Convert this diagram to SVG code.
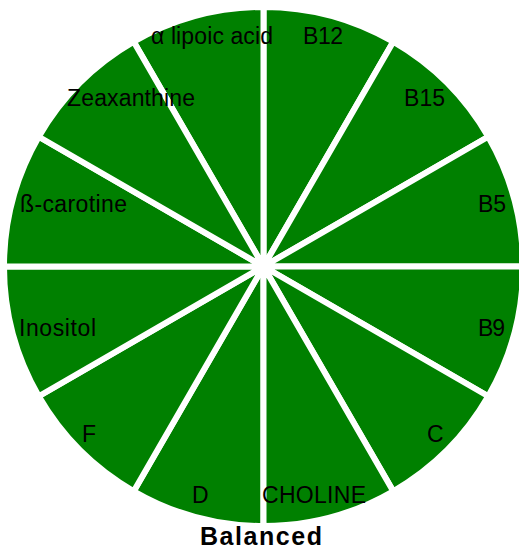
<svg xmlns="http://www.w3.org/2000/svg" width="519" height="551" viewBox="0 0 519 551">
<style>
.s{fill:#008000;stroke:#ffffff;stroke-width:6;stroke-linejoin:round}
.t{font-family:"Liberation Sans",Arial,sans-serif;font-size:23px;fill:#000000}
.ti{font-family:"Liberation Sans",Arial,sans-serif;font-size:25px;font-weight:bold;fill:#000000}
</style>
<rect width="519" height="551" fill="#ffffff"/>
<g id="sector-b12"><path class="s" d="M263.5,266.5 L263.5,7 A259.5,259.5 0 0 1 393.25,41.765 Z"/><text class="t" x="303" y="44" textLength="40">B12</text></g>
<g id="sector-b15"><path class="s" d="M263.5,266.5 L393.25,41.765 A259.5,259.5 0 0 1 488.235,136.75 Z"/><text class="t" x="404" y="106" textLength="41">B15</text></g>
<g id="sector-b5"><path class="s" d="M263.5,266.5 L488.235,136.75 A259.5,259.5 0 0 1 523,266.5 Z"/><text class="t" x="478" y="212" textLength="28">B5</text></g>
<g id="sector-b9"><path class="s" d="M263.5,266.5 L523,266.5 A259.5,259.5 0 0 1 488.235,396.25 Z"/><text class="t" x="478" y="336" textLength="27">B9</text></g>
<g id="sector-c"><path class="s" d="M263.5,266.5 L488.235,396.25 A259.5,259.5 0 0 1 393.25,491.235 Z"/><text class="t" x="427" y="442">C</text></g>
<g id="sector-d"><path class="s" d="M263.5,266.5 L263.5,526 A259.5,259.5 0 0 1 133.75,491.235 Z"/><text class="t" x="192" y="503">D</text></g>
<g id="sector-choline"><path class="s" d="M263.5,266.5 L393.25,491.235 A259.5,259.5 0 0 1 263.5,526 Z"/><text class="t" x="262" y="503" textLength="104">CHOLINE</text></g>
<g id="sector-f"><path class="s" d="M263.5,266.5 L133.75,491.235 A259.5,259.5 0 0 1 38.765,396.25 Z"/><text class="t" x="82" y="442">F</text></g>
<g id="sector-inositol"><path class="s" d="M263.5,266.5 L38.765,396.25 A259.5,259.5 0 0 1 4,266.5 Z"/><text class="t" x="19" y="336" textLength="77">Inositol</text></g>
<g id="sector-b-carotine"><path class="s" d="M263.5,266.5 L4,266.5 A259.5,259.5 0 0 1 38.765,136.75 Z"/><text class="t" x="20" y="212" textLength="107">ß-carotine</text></g>
<g id="sector-alpha-lipoic-acid"><path class="s" d="M263.5,266.5 L133.75,41.765 A259.5,259.5 0 0 1 263.5,7 Z"/><text class="t" x="151" y="44" textLength="122">α lipoic acid</text></g>
<g id="sector-zeaxanthine"><path class="s" d="M263.5,266.5 L38.765,136.75 A259.5,259.5 0 0 1 133.75,41.765 Z"/><text class="t" x="67" y="106" textLength="128">Zeaxanthine</text></g>
<g id="connectors"></g>
<text class="ti" x="200" y="545" textLength="122">Balanced</text>
</svg>
